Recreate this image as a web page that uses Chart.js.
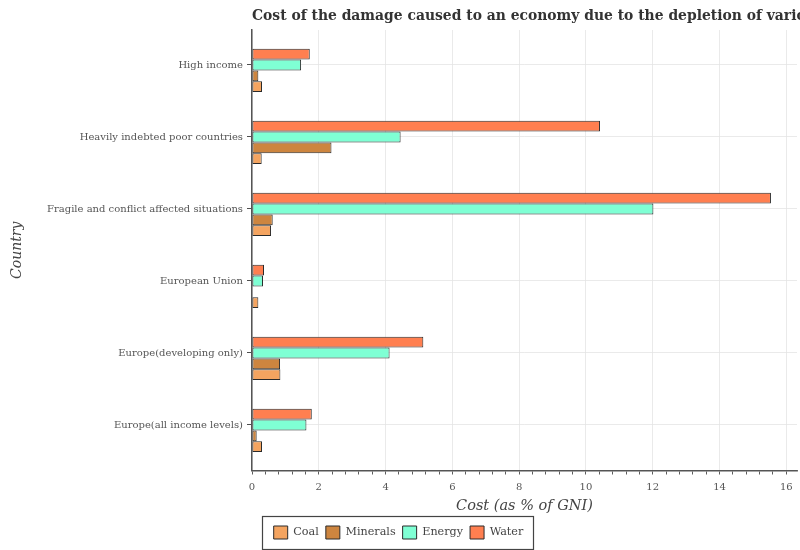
<!DOCTYPE html>
<html><head><meta charset="utf-8">
<script src="https://cdn.jsdelivr.net/npm/chart.js@4"></script>
<style>html,body{margin:0;padding:0;background:#fff}</style>
</head><body>
<canvas id="c" width="800" height="550"></canvas>
<script>
const chartTitle = 'Cost of the damage caused to an economy due to the depletion of various natural resources';
const countries = ['High income','Heavily indebted poor countries','Fragile and conflict affected situations','European Union','Europe(developing only)','Europe(all income levels)'];
const coal     = [0.30, 0.29, 0.57, 0.19, 0.85, 0.30];
const minerals = [0.19, 2.38, 0.62, 0.01, 0.84, 0.14];
const energy   = [1.47, 4.45, 12.02, 0.33, 4.12, 1.63];
const water    = [1.73, 10.42, 15.54, 0.36, 5.13, 1.79];
const seriesNames = ['Coal', 'Minerals', 'Energy', 'Water'];
const xMajorTicks = [0, 2, 4, 6, 8, 10, 12, 14, 16];

const serif = '"DejaVu Serif", serif';
const toPts = arr => arr.map((v, i) => ({x: v, y: i}));
const mk = (name, arr, color) => ({label: name, data: toPts(arr), backgroundColor: color, borderColor: '#2a2a2a', borderWidth: 1, borderSkipped: false});

const titlePlugin = {
  id: 'topTitle',
  afterDraw(chart) {
    const ctx = chart.ctx; ctx.save();
    ctx.font = 'bold 13.9px ' + serif; ctx.fillStyle = '#333';
    ctx.textBaseline = 'middle'; ctx.textAlign = 'left';
    ctx.fillText(chartTitle, chart.chartArea.left, 16);
    ctx.restore();
  }
};
const legendBox = {
  id: 'legendBox',
  afterDraw(chart) {
    const lg = chart.legend; if (!lg || !lg.legendHitBoxes || !lg.legendHitBoxes.length) return;
    const hb = lg.legendHitBoxes;
    const l = Math.min(...hb.map(h => h.left)) - 12;
    const r = Math.max(...hb.map(h => h.left + h.width)) + 9;
    const t = Math.min(...hb.map(h => h.top)) - 10;
    const b = Math.max(...hb.map(h => h.top + h.height)) + 10;
    const ctx = chart.ctx; ctx.save();
    ctx.strokeStyle = '#444'; ctx.lineWidth = 1.2;
    ctx.strokeRect(Math.round(l) + 0.5, Math.round(t) + 0.5, Math.round(r - l), Math.round(b - t));
    ctx.restore();
  }
};

new Chart(document.getElementById('c'), {
  type: 'bar',
  data: {
    datasets: [
      {label: '', data: toPts(countries.map(() => 0)), backgroundColor: 'rgba(0,0,0,0)', borderWidth: 0},
      mk(seriesNames[3], water, '#FF7F50'),
      mk(seriesNames[2], energy, '#7FFFD4'),
      mk(seriesNames[1], minerals, '#CD853F'),
      mk(seriesNames[0], coal, '#F4A460')
    ]
  },
  options: {
    responsive: false, animation: false, devicePixelRatio: 1,
    indexAxis: 'y',
    categoryPercentage: 0.75, barPercentage: 1.0,
    layout: {padding: {top: 30, right: 3, left: 0, bottom: 1}},
    plugins: {
      title: {display: false}, tooltip: {enabled: false},
      legend: {
        position: 'bottom', reverse: true,
        labels: {filter: it => it.text !== '', boxWidth: 14, boxHeight: 13, padding: 7, color: '#444', font: {family: serif, size: 11.2}}
      }
    },
    scales: {
      x: {
        type: 'linear', min: 0, max: 16.32, offset: false,
        afterBuildTicks: s => { const t = []; for (let k = 0; k <= 40; k++) t.push({value: k * 2 / 5}); s.ticks = t; },
        afterFit: s => { s.height = 48.5; },
        grid: {offset: false, color: c => (xMajorTicks.includes(c.tick && c.tick.value) ? '#e4e4e4' : 'rgba(0,0,0,0)'), lineWidth: 0.8, tickLength: 4, tickColor: '#333'},
        border: {color: '#555', width: 1.5},
        ticks: {autoSkip: false, maxRotation: 0, padding: 7, color: '#555', font: {family: serif, size: 10},
          callback: v => (xMajorTicks.includes(v) ? String(v) : '')},
        title: {display: true, text: 'Cost (as % of GNI)', color: '#444', font: {family: serif, size: 14.5, style: 'italic'}, padding: {top: 0, bottom: 4}}
      },
      y: {
        type: 'linear', reverse: true, min: -0.486, max: 5.632, offset: false,
        afterBuildTicks: s => { s.ticks = countries.map((_, i) => ({value: i})); },
        afterFit: s => { s.width = 252; },
        grid: {offset: false, color: '#e4e4e4', lineWidth: 0.8, tickLength: 5, tickColor: '#222'},
        border: {color: '#555', width: 1.5},
        ticks: {padding: 4, color: '#555', font: {family: serif, size: 10}, callback: v => (countries[v] !== undefined ? countries[v] : '')},
        title: {display: true, text: 'Country', color: '#444', font: {family: serif, size: 14, style: 'italic'}, padding: {top: 9, bottom: 0}}
      }
    }
  },
  plugins: [titlePlugin, legendBox]
});
</script>
</body></html>
